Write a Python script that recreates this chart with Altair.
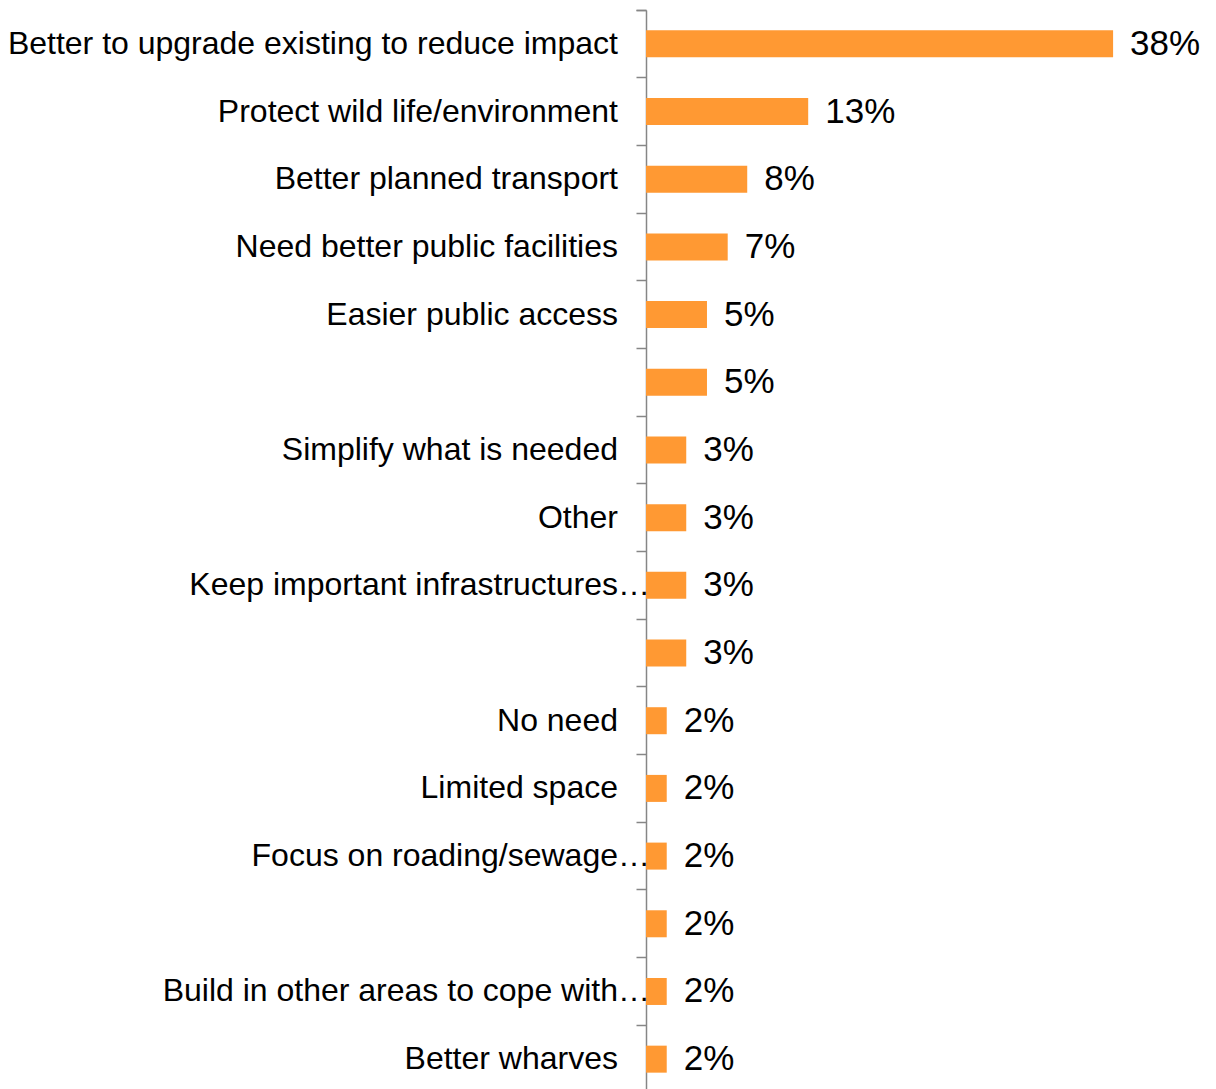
import altair as alt
import pandas as pd

categories = [
    "Better to upgrade existing to reduce impact",
    "Protect wild life/environment",
    "Better planned transport\u00a0",
    "Need better public facilities\u00a0",
    "Easier public access",
    "",
    "Simplify what is needed",
    "Other",
    "Keep important infrastructures\u2026",
    "",
    "No need",
    "Limited space",
    "Focus on roading/sewage\u2026",
    "",
    "Build in other areas to cope with\u2026",
    "Better wharves",
]
pct = [38.3, 13.3, 8.3, 6.7, 5.0, 5.0, 3.3, 3.3, 3.3, 3.3, 1.7, 1.7, 1.7, 1.7, 1.7, 1.7]
pct_labels = ["38%", "13%", "8%", "7%", "5%", "5%", "3%", "3%", "3%", "3%",
              "2%", "2%", "2%", "2%", "2%", "2%"]

df = pd.DataFrame({
    "idx": list(range(len(categories))),
    "cat": categories,
    "pct": pct,
    "lbl": pct_labels,
})

FONT = "Liberation Sans"
base = alt.Chart(df)

y_axis = alt.Y(
    "idx:O",
    title=None,
    scale=alt.Scale(paddingInner=0, paddingOuter=0, range=[0, 1083]),
    axis=alt.Axis(
        labels=False,
        title=None,
        domainColor="#868686",
        domainWidth=1.5,
        tickColor="#868686",
        tickWidth=1.5,
        tickSize=10,
        bandPosition=0,
        tickExtra=True,
        grid=False,
    ),
)
x_enc = alt.X("pct:Q", scale=alt.Scale(domain=[0, 46]), axis=None)

bars = base.mark_bar(size=27, color="#FF9933").encode(x=x_enc, y=y_axis)

pct_text = base.mark_text(
    align="left", baseline="middle", dx=17, fontSize=35, font=FONT, color="#000000"
).encode(x=x_enc, y=alt.Y("idx:O"), text="lbl:N")

cat_text = base.transform_filter(
    "indexof(datum.cat, '\u2026') < 0"
).mark_text(
    align="right", baseline="middle", fontSize=32, font=FONT, color="#000000"
).encode(x=alt.value(-28), y=alt.Y("idx:O"), text="cat:N")

cat_text_trunc = base.transform_filter(
    "indexof(datum.cat, '\u2026') >= 0"
).mark_text(
    align="right", baseline="middle", fontSize=32, font=FONT, color="#000000"
).encode(x=alt.value(4), y=alt.Y("idx:O"), text="cat:N")

chart = alt.layer(bars, pct_text, cat_text, cat_text_trunc).properties(
    width=561,
    height=1079,
    autosize=alt.AutoSizeParams(type="none"),
    padding={"left": 638, "top": 2, "right": 1, "bottom": 0},
).configure_view(stroke=None)

chart.save("out.html", embed_options={"renderer": "svg", "actions": False})
